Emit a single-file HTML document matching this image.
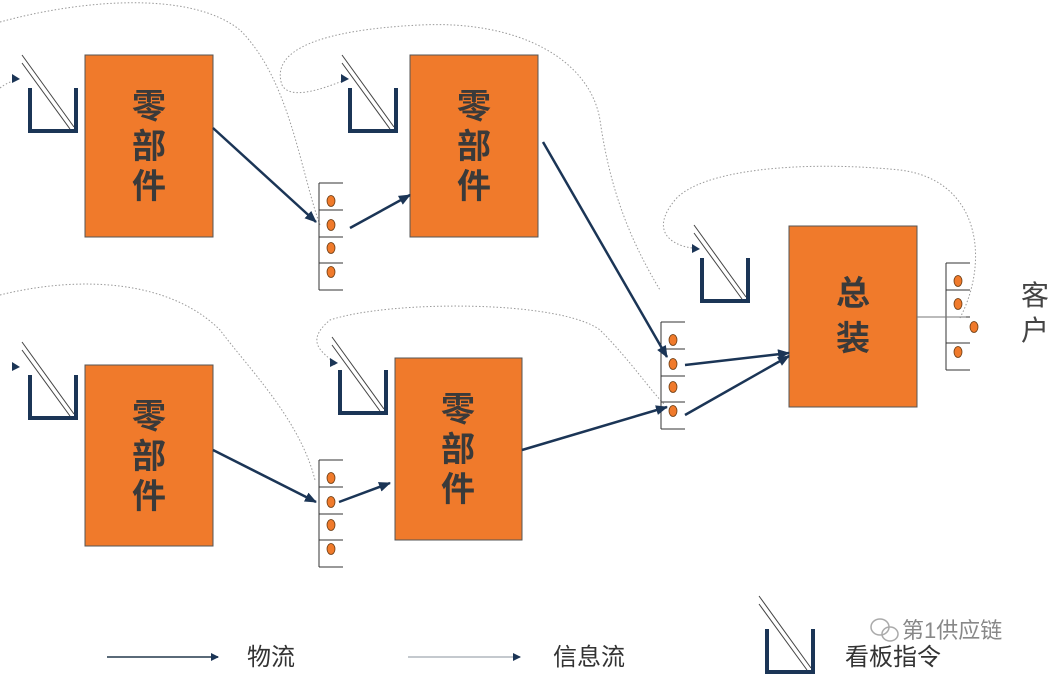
<!DOCTYPE html>
<html><head><meta charset="utf-8"><style>
html,body{margin:0;padding:0;background:#fff;}
svg{display:block;font-family:"Liberation Sans","Noto Sans CJK SC",sans-serif;}
</style></head><body>
<svg width="1055" height="677" viewBox="0 0 1055 677" xmlns="http://www.w3.org/2000/svg">
<defs>
<marker id="a" markerWidth="8" markerHeight="8" refX="7" refY="4" orient="auto" markerUnits="userSpaceOnUse"><path d="M0,0 L8,4 L0,8 z" fill="#1b3556"/></marker>
<marker id="b" markerWidth="12" markerHeight="10" refX="11" refY="5" orient="auto" markerUnits="userSpaceOnUse"><path d="M0,0 L12,5 L0,10 z" fill="#1b3556"/></marker>
<g id="bin">
<path d="M0,33 V76 H46 V33" fill="none" stroke="#1b3556" stroke-width="4"/>
<line x1="-8" y1="0" x2="44" y2="72" stroke="#444" stroke-width="1"/>
<line x1="-8" y1="8" x2="40" y2="74" stroke="#444" stroke-width="1"/>
</g>
<g id="stk" stroke="#333" stroke-width="1" fill="none">
<line x1="0" y1="0" x2="0" y2="107"/>
<line x1="0" y1="0" x2="24" y2="0"/><line x1="0" y1="27" x2="24" y2="27"/>
<line x1="0" y1="54" x2="24" y2="54"/><line x1="0" y1="80" x2="24" y2="80"/><line x1="0" y1="107" x2="24" y2="107"/>
</g>
</defs>

<g fill="none" stroke="#999" stroke-width="1" stroke-dasharray="1.5,2">
<path d="M0,88 C10,80 20,80 15,80 M0,22 C80,0 190,-10 240,30 C290,80 300,170 320,225"/>
<path d="M345,80 C320,90 290,100 282,85 C270,50 320,30 420,25 C520,20 590,60 600,120 C610,190 630,240 660,290"/>
<path d="M0,295 C80,275 170,280 220,330 C250,370 300,420 315,480"/>
<path d="M335,365 C330,355 300,345 330,320 C390,300 560,300 600,330 C630,360 650,390 665,405"/>
<path d="M692,248 C670,245 650,230 675,200 C700,170 800,160 900,170 C980,180 990,260 960,318"/>
</g>

<use href="#bin" x="30" y="55"/>
<use href="#bin" x="350" y="55"/>
<use href="#bin" x="30" y="342"/>
<use href="#bin" x="340" y="337"/>
<use href="#bin" x="702" y="225"/>
<use href="#bin" x="767" y="596"/>
<path d="M12,74 L20,79 L12,83z" fill="#1b3556"/>
<path d="M341,74 L349,79 L341,83z" fill="#1b3556"/>
<path d="M12,362 L20,367 L12,371z" fill="#1b3556"/>
<path d="M330,358 L338,363 L330,367z" fill="#1b3556"/>
<path d="M692,244 L700,249 L692,253z" fill="#1b3556"/>

<g fill="#f07a2b" stroke="#555" stroke-width="1">
<rect x="85" y="55" width="128" height="182"/>
<rect x="410" y="55" width="128" height="182"/>
<rect x="85" y="365" width="128" height="181"/>
<rect x="395" y="358" width="127" height="182"/>
<rect x="789" y="226" width="128" height="181"/>
</g>
<g fill="#3a3a3a" font-size="34" font-weight="bold" text-anchor="middle">
<text x="149" y="118">零</text><text x="149" y="158">部</text><text x="149" y="198">件</text>
<text x="474" y="118">零</text><text x="474" y="158">部</text><text x="474" y="198">件</text>
<text x="149" y="428">零</text><text x="149" y="468">部</text><text x="149" y="508">件</text>
<text x="458" y="421">零</text><text x="458" y="461">部</text><text x="458" y="501">件</text>
<text x="853" y="305">总</text><text x="853" y="350">装</text>
</g>

<use href="#stk" x="319" y="183"/>
<use href="#stk" x="319" y="460"/>
<use href="#stk" x="661" y="322"/>
<use href="#stk" x="946" y="263"/>
<g fill="#f07a2b" stroke="#6a3a10" stroke-width="0.8">
<ellipse cx="331" cy="201" rx="4" ry="5.5"/><ellipse cx="331" cy="225" rx="4" ry="5.5"/><ellipse cx="331" cy="248" rx="4" ry="5.5"/><ellipse cx="331" cy="272" rx="4" ry="5.5"/>
<ellipse cx="331" cy="478" rx="4" ry="5.5"/><ellipse cx="331" cy="502" rx="4" ry="5.5"/><ellipse cx="331" cy="525" rx="4" ry="5.5"/><ellipse cx="331" cy="549" rx="4" ry="5.5"/>
<ellipse cx="673" cy="340" rx="4" ry="5.5"/><ellipse cx="673" cy="364" rx="4" ry="5.5"/><ellipse cx="673" cy="387" rx="4" ry="5.5"/><ellipse cx="673" cy="411" rx="4" ry="5.5"/>
<ellipse cx="958" cy="281" rx="4" ry="5.5"/><ellipse cx="958" cy="304" rx="4" ry="5.5"/><ellipse cx="974" cy="327" rx="4" ry="5.5"/><ellipse cx="958" cy="352" rx="4" ry="5.5"/>
</g>
<line x1="917" y1="317" x2="966" y2="317" stroke="#777" stroke-width="1"/>

<g stroke="#1b3556" stroke-width="2.5" fill="none" marker-end="url(#b)">
<line x1="213" y1="128" x2="316" y2="222"/>
<line x1="350" y1="228" x2="410" y2="195"/>
<line x1="543" y1="142" x2="667" y2="357"/>
<line x1="685" y1="365" x2="789" y2="353"/>
<line x1="685" y1="415" x2="789" y2="356"/>
<line x1="213" y1="450" x2="316" y2="502"/>
<line x1="339" y1="502" x2="390" y2="483"/>
<line x1="522" y1="450" x2="667" y2="407"/>
</g>

<text x="1021" y="305" font-size="28" fill="#444">客</text>
<text x="1021" y="340" font-size="28" fill="#444">户</text>

<line x1="107" y1="657" x2="218" y2="657" stroke="#5a6a78" stroke-width="2" marker-end="url(#a)"/>
<text x="247" y="665" font-size="24" fill="#333">物流</text>
<line x1="408" y1="657" x2="520" y2="657" stroke="#c4c9ce" stroke-width="2" marker-end="url(#a)"/>
<text x="553" y="665" font-size="24" fill="#333">信息流</text>
<text x="845" y="665" font-size="24" fill="#333">看板指令</text>
<text x="902" y="638" font-size="22" fill="#888">第1供应链</text>
<g fill="none" stroke="#aaa" stroke-width="1.5"><ellipse cx="880" cy="627" rx="9" ry="8"/><ellipse cx="890" cy="634" rx="8" ry="7"/></g>
</svg>
</body></html>
